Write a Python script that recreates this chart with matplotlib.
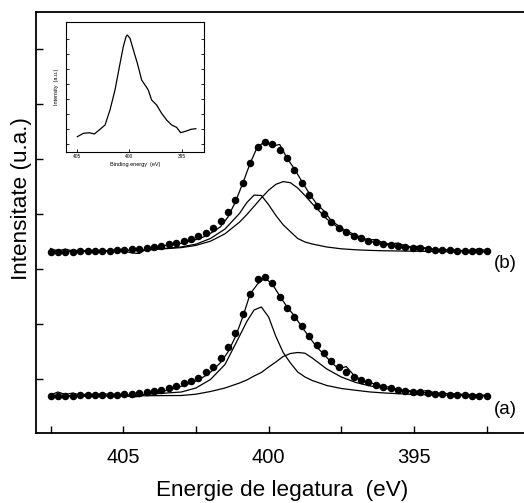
import numpy as np
import matplotlib
matplotlib.use("Agg")
import matplotlib.pyplot as plt

plt.rcParams['font.family'] = ['Liberation Sans', 'DejaVu Sans']

# ---------------- data ----------------
# experimental energies (eV), 60 points from 407.5 to 392.5
energy = np.linspace(407.5, 392.5, 60)

dots_a = [37, 37.3, 37.5, 37.5, 37.7, 37.7, 38, 38, 38.3, 38.5,
          39, 39.5, 40, 41, 42, 43.5, 45, 47, 49.7, 52.3,
          55.3, 60.7, 66.3, 74.7, 85.7, 100.3, 118.7, 138.7, 154, 155.7,
          149.7, 135.7, 125.3, 115.7, 107, 97, 88, 79.7, 72.3, 66.3,
          60.7, 56.3, 53, 50.7, 48, 46.3, 44.7, 43, 42, 41.3,
          40.7, 40, 39.3, 38.7, 38.3, 38, 37.7, 37.3, 37.3, 37]

line_a = [38, 41, 38.5, 40, 38, 39, 38, 39.5, 38.5, 38.5,
          37.5, 36, 36.5, 39.5, 40, 41.5, 43, 45, 47.5, 50,
          53, 57.5, 63, 70.5, 81, 96, 116, 139, 149, 155,
          149, 137, 126, 117, 106, 96, 86, 78.5, 70.5, 64,
          66.5, 58, 53, 51, 48.5, 47, 45.5, 43.5, 42.5, 42,
          41.5, 42.5, 40, 39.5, 39.5, 38.5, 38.5, 38, 38, 37]

dots_b = [181, 181.5, 181.5, 181.5, 182, 182, 182, 182.5, 182.5, 183,
          183.5, 184, 184.5, 185.5, 186.5, 187.5, 189, 190.5, 192, 194,
          197, 200.3, 205.3, 212, 220.7, 233, 249.7, 269.7, 286.3, 291.3,
          288.7, 283, 274.7, 263, 250.3, 238, 227, 218.7, 211.3, 205.3,
          200.7, 197.3, 194.7, 192.3, 190.7, 189, 188, 187, 186.3, 185.3,
          184.7, 183.7, 183.3, 183, 182.7, 182.3, 182.3, 182, 182.3, 181.7]

line_b = [184.5, 182, 184, 182, 183, 182, 182, 182, 182.5, 183,
          182, 180, 179.5, 184, 185.5, 187, 188, 189, 190, 192,
          194, 197, 201.3, 206.3, 216, 231, 249.7, 269.7, 286.5, 291,
          287, 288.5, 274.7, 264, 251.5, 239.5, 229, 222, 212, 207,
          202, 199, 195.5, 193, 193.5, 190, 189, 190, 187, 186,
          187, 184, 183, 183, 183, 182.5, 182, 182.5, 184.5, 182]

# fitted components (energies in eV)
comp_energy = [407.5, 406, 405, 404, 403, 402.5, 402, 401.5, 401, 400.75,
               400.5, 400.25, 400, 399.75, 399.5, 399.25, 399, 398.75, 398.5, 398,
               397.5, 397, 396.5, 396, 395, 394, 393, 392.5]

comp1_a = [37, 37.5, 38, 39, 41, 45, 53.5, 68.5, 97, 111.5,
           123, 126, 116, 96.5, 80.5, 70, 61, 56, 52.5, 47.5,
           44.5, 42.7, 41, 40, 38.5, 37.8, 37.2, 37]
comp2_a = [36.5, 36.8, 37, 37.3, 37.5, 38.8, 41.5, 45, 50, 53,
           57, 60.5, 66, 71, 76.5, 79.5, 80.5, 79.8, 75, 64,
           56, 50.5, 47, 44.5, 41, 39.3, 38.2, 37.7]
comp1_b = [181.2, 181.7, 182.4, 183.5, 186.1, 188.8, 194.5, 204, 219.6, 230.4,
           237.9, 237.5, 228.3, 217.5, 208.2, 201.3, 194.5, 191, 189, 186,
           184.2, 183.2, 182.6, 182.2, 181.8, 181.4, 181.2, 181.1]
comp2_b = [181.4, 181.9, 182.5, 183.4, 185.4, 187.6, 191.8, 199.2, 210.9, 218.4,
           226.7, 235.1, 242.8, 248.7, 251.4, 250.3, 245, 237.5, 229.3, 214,
           203, 196, 191.5, 188.5, 185.3, 183.3, 182, 181.6]

# inset spectrum
inset_energy = [404.97, 404.40, 403.83, 403.35, 402.97, 402.33, 401.86, 401.38, 400.90, 400.59,
                400.33, 400.21, 399.95, 399.63, 399.25, 398.84, 398.52, 398.21, 397.89, 397.41,
                396.94, 396.46, 395.98, 395.51, 395.13, 394.48, 394.16, 393.68]
inset_intensity = [50, 60, 62, 58, 68, 85, 130, 190, 270, 320,
                   350, 355, 345, 310, 270, 220, 205, 190, 160, 145,
                   120, 100, 85, 78, 62, 68, 72, 74]

x_ticks_major = [405, 400, 395]
x_ticks_minor = [407.5, 402.5, 397.5, 392.5]
y_ticks = [54, 109, 164, 219, 274, 329, 384]
inset_xticks = [405, 400, 395]
inset_yticks = [28, 73, 118, 163, 208, 253, 298, 343]

# ---------------- figure ----------------
W, H = 524, 503
fig = plt.figure(figsize=(W / 100, H / 100), dpi=100)

left_px, right_px, top_px, bot_px = 36, 528, 12, 433
ax = fig.add_axes([left_px / W, 1 - bot_px / H, (right_px - left_px) / W, (bot_px - top_px) / H])

lw = 0.9
ms = 4.4
for dots, line, c1, c2 in [(dots_a, line_a, comp1_a, comp2_a), (dots_b, line_b, comp1_b, comp2_b)]:
    ax.plot(comp_energy, c1, color='black', lw=lw)
    ax.plot(comp_energy, c2, color='black', lw=lw)
    ax.plot(energy, line, color='black', lw=lw)
    ax.plot(energy, dots, linestyle='none', marker='o', ms=ms, color='black')

ax.set_xlim(408.0, 391.08)
ax.set_ylim(0, 421)

ax.set_xticks(x_ticks_major)
ax.set_xticks(x_ticks_minor, minor=True)
ax.set_yticks(y_ticks)
ax.set_yticklabels([])
ax.tick_params(axis='x', which='major', direction='in', length=5, width=1, labelsize=14.5, pad=11)
ax.tick_params(axis='x', which='minor', direction='in', length=5, width=1)
ax.tick_params(axis='y', which='major', direction='in', length=5, width=1)
for s in ax.spines.values():
    s.set_linewidth(1.3)

ax.set_xlabel('Energie de legatura  (eV)', fontsize=16.2, labelpad=9)
ax.set_ylabel('Intensitate (u.a.)', fontsize=16.2)
ax.yaxis.set_label_coords(-0.009, 0.556)

ax.text(391.87, 170, '(b)', fontsize=13.5, ha='center', va='center')
ax.text(391.87, 24, '(a)', fontsize=13.5, ha='center', va='center')

# inset
il, ir, it, ib = 66, 204, 22.3, 151.7
ins = fig.add_axes([il / W, 1 - ib / H, (ir - il) / W, (ib - it) / H])
ins.plot(inset_energy, inset_intensity, color='black', lw=0.9)
ins.set_xlim(406.05, 392.9)
ins.set_ylim(5, 393)
ins.set_xticks(inset_xticks)
ins.set_yticks(inset_yticks)
ins.set_yticklabels([])
ins.tick_params(axis='both', direction='in', length=2, width=0.6, labelsize=3.5, pad=2)
ins.tick_params(axis='y', right=True)
for s in ins.spines.values():
    s.set_linewidth(0.8)
ins.set_xlabel('Binding energy  (eV)', fontsize=4, labelpad=2)
ins.set_ylabel('Intensity  (a.u.)', fontsize=4, labelpad=3)

fig.savefig('out.png', dpi=100)
